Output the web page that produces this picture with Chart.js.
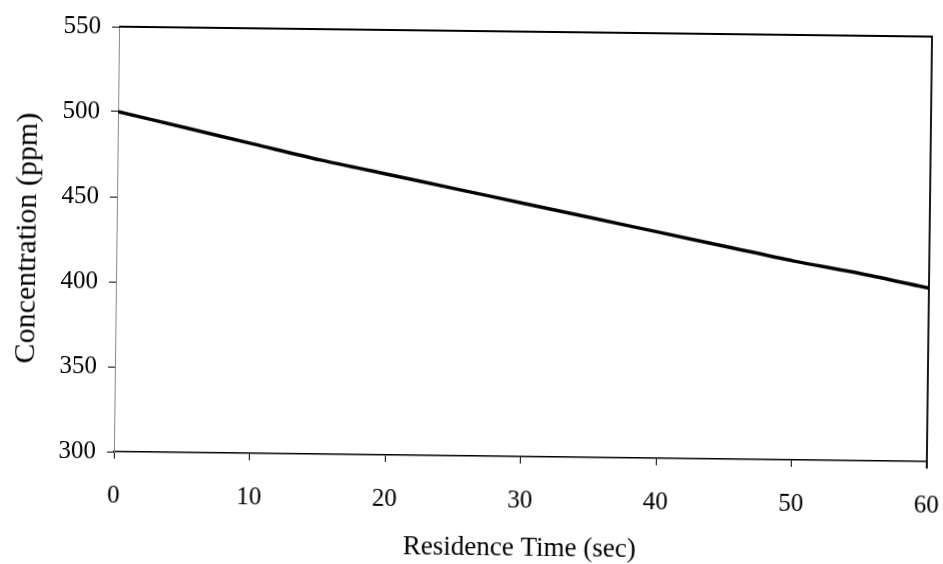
<!DOCTYPE html>
<html>
<head>
<meta charset="utf-8">
<script src="https://cdn.jsdelivr.net/npm/chart.js@4.4.0/dist/chart.umd.min.js"></script>
<style>
  html, body { margin: 0; padding: 0; background: #fff; }
  #wrap { width: 943px; height: 564px; transform: rotate(0.7deg); }
</style>
</head>
<body>
<div id="wrap"><canvas id="chart"></canvas></div>
<script>
// residence time (sec) vs concentration (ppm)
const times = [0, 5, 10, 15, 20, 25, 30, 35, 40, 45, 50, 55, 60];
const concentration = [500, 491, 482, 473, 465, 457, 449, 441, 433, 425, 417, 410, 402];
const yTicks = [300, 350, 400, 450, 500, 550];
const xTicks = [0, 10, 20, 30, 40, 50, 60];

const FONT = "'Liberation Serif', 'Times New Roman', serif";

// top and right edges of the plot box
const boxEdges = {
    id: "boxEdges",
    afterDraw(chart) {
        const { ctx, chartArea: a } = chart;
        ctx.save();
        ctx.strokeStyle = "#000";
        ctx.lineWidth = 1.8;
        ctx.beginPath();
        ctx.moveTo(a.left, a.top);
        ctx.lineTo(a.right, a.top);
        ctx.lineTo(a.right, a.bottom + 7);
        ctx.stroke();
        ctx.restore();
    }
};

const ctx = document.getElementById("chart").getContext("2d");
new Chart(ctx, {
    type: "line",
    data: {
        datasets: [{
            data: times.map((t, i) => ({ x: t, y: concentration[i] })),
            borderColor: "#000",
            borderWidth: 3.5,
            pointRadius: 0,
            tension: 0.3,
            fill: false
        }]
    },
    options: {
        responsive: true,
        maintainAspectRatio: false,
        animation: false,
        layout: { padding: { top: 31, right: 14, left: 0, bottom: 0 } },
        plugins: { legend: { display: false }, tooltip: { enabled: false } },
        scales: {
            x: {
                type: "linear",
                min: 0,
                max: 60,
                afterBuildTicks: (s) => { s.ticks = xTicks.map(v => ({ value: v })); },
                afterFit: (s) => {
                    s.height = 564 - 456;
                    s.paddingLeft = 0;
                    s.paddingRight = 0;
                },
                border: { color: "#000", width: 1.5 },
                grid: { drawOnChartArea: false, color: "#000", tickLength: 7, lineWidth: 1 },
                ticks: { color: "#000", padding: 22, font: { family: FONT, size: 25 } },
                title: {
                    display: true,
                    text: "Residence Time (sec)",
                    color: "#000",
                    padding: { top: 0, bottom: 0 },
                    font: { family: FONT, size: 27 }
                }
            },
            y: {
                min: 300,
                max: 550,
                afterBuildTicks: (s) => { s.ticks = yTicks.map(v => ({ value: v })); },
                afterFit: (s) => {
                    s.width = 116;
                    s.paddingTop = 0;
                    s.paddingBottom = 0;
                },
                border: { color: "#888", width: 1, dash: [3, 3] },
                grid: { drawOnChartArea: false, color: "#000", tickLength: 7, lineWidth: 1 },
                ticks: { color: "#000", padding: 11, font: { family: FONT, size: 25 } },
                title: {
                    display: true,
                    text: "Concentration (ppm)",
                    color: "#000",
                    padding: { top: 9, bottom: 0 },
                    font: { family: FONT, size: 30 }
                }
            }
        }
    },
    plugins: [boxEdges]
});
</script>
</body>
</html>
